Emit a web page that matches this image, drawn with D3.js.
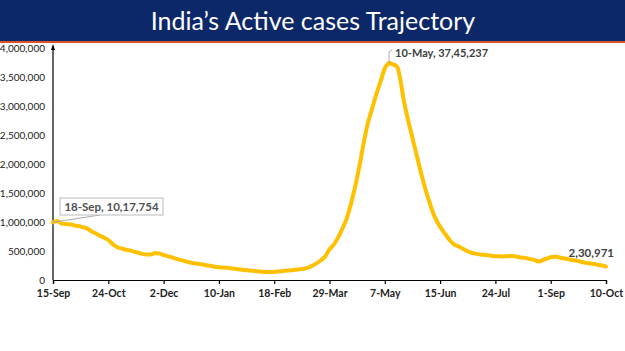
<!DOCTYPE html>
<html><head><meta charset="utf-8">
<script src="https://cdn.jsdelivr.net/npm/d3@7"></script>
<style>
html,body{margin:0;padding:0;background:#fff;}
svg{display:block;}
</style></head>
<body>
<script>
const titleText = "India\u2019s Active cases Trajectory";
const tickDates = ["2020-09-15","2020-10-24","2020-12-02","2021-01-10","2021-02-18","2021-03-29","2021-05-07","2021-06-15","2021-07-24","2021-09-01","2021-10-10"];
const yTicks = [0,500000,1000000,1500000,2000000,2500000,3000000,3500000,4000000];
const dates = ["2020-09-15","2020-09-18","2020-09-21","2020-09-24","2020-09-27","2020-09-30","2020-10-03","2020-10-06","2020-10-09","2020-10-12","2020-10-15","2020-10-18","2020-10-21","2020-10-24","2020-10-27","2020-10-30","2020-11-02","2020-11-05","2020-11-08","2020-11-11","2020-11-14","2020-11-17","2020-11-20","2020-11-23","2020-11-26","2020-11-29","2020-12-02","2020-12-05","2020-12-08","2020-12-11","2020-12-14","2020-12-17","2020-12-20","2020-12-23","2020-12-26","2020-12-29","2021-01-01","2021-01-04","2021-01-07","2021-01-10","2021-01-13","2021-01-16","2021-01-19","2021-01-22","2021-01-25","2021-01-28","2021-01-31","2021-02-03","2021-02-06","2021-02-09","2021-02-12","2021-02-15","2021-02-18","2021-02-21","2021-02-24","2021-02-27","2021-03-02","2021-03-05","2021-03-08","2021-03-11","2021-03-14","2021-03-17","2021-03-20","2021-03-23","2021-03-26","2021-03-29","2021-04-01","2021-04-04","2021-04-07","2021-04-10","2021-04-13","2021-04-16","2021-04-19","2021-04-22","2021-04-25","2021-04-28","2021-05-01","2021-05-04","2021-05-07","2021-05-09","2021-05-10","2021-05-12","2021-05-14","2021-05-16","2021-05-18","2021-05-20","2021-05-23","2021-05-26","2021-05-29","2021-06-01","2021-06-04","2021-06-07","2021-06-10","2021-06-13","2021-06-16","2021-06-19","2021-06-22","2021-06-25","2021-06-28","2021-07-01","2021-07-04","2021-07-07","2021-07-10","2021-07-13","2021-07-16","2021-07-19","2021-07-22","2021-07-25","2021-07-28","2021-07-31","2021-08-03","2021-08-06","2021-08-09","2021-08-12","2021-08-15","2021-08-18","2021-08-21","2021-08-24","2021-08-27","2021-08-30","2021-09-02","2021-09-05","2021-09-08","2021-09-11","2021-09-14","2021-09-17","2021-09-20","2021-09-23","2021-09-26","2021-09-29","2021-10-02","2021-10-05","2021-10-08","2021-10-10"];
const activeCases = [995000,1017754,975000,965000,960000,942000,930000,910000,890000,840000,805000,765000,730000,690000,620000,570000,545000,525000,510000,490000,470000,450000,440000,440000,465000,455000,430000,410000,390000,365000,345000,325000,305000,290000,280000,270000,255000,245000,230000,220000,215000,210000,200000,190000,182000,172000,165000,158000,150000,144000,137000,138000,140000,148000,155000,162000,168000,175000,185000,195000,215000,245000,290000,340000,410000,530000,610000,730000,880000,1050000,1300000,1600000,1950000,2350000,2700000,2950000,3200000,3420000,3650000,3720000,3745237,3720000,3710000,3660000,3450000,3150000,2800000,2500000,2200000,1900000,1620000,1380000,1160000,1000000,880000,780000,680000,610000,580000,540000,500000,470000,455000,440000,435000,425000,415000,410000,405000,408000,415000,412000,395000,385000,375000,360000,340000,320000,350000,375000,395000,400000,385000,370000,355000,340000,330000,310000,295000,285000,275000,260000,245000,230971];
const annotations = [
  {date:"2021-05-10", label:"10-May,  37,45,237"},
  {date:"2020-09-18", label:"18-Sep,  10,17,754"},
  {date:"2021-10-10", label:"2,30,971"}
];

const W=625,H=351;
const parse=d3.timeParse("%Y-%m-%d");
const fmtTick=d3.timeFormat("%-d-%b");
const data=dates.map((d,i)=>({date:parse(d),value:activeCases[i]}));

const svg=d3.select("body").append("svg").attr("width",W).attr("height",H);

// title bar
svg.append("rect").attr("x",0).attr("y",0).attr("width",W).attr("height",41).attr("fill","#0c2869");
svg.append("rect").attr("x",0).attr("y",41).attr("width",W).attr("height",2).attr("fill","#d9542b");
svg.append("text").attr("x",313).attr("y",30).attr("text-anchor","middle")
  .attr("fill","#fff").attr("font-family","Lato, sans-serif").attr("font-size",25)
  .text(titleText);

const x=d3.scaleTime().domain([parse(tickDates[0]),parse(tickDates[tickDates.length-1])]).range([53,606]);
const y=d3.scaleLinear().domain([0,4000000]).range([280,48]);

// x axis
const xAxis=d3.axisBottom(x).tickValues(tickDates.map(parse)).tickFormat(fmtTick).tickSizeOuter(0).tickSize(4).tickPadding(6);
const gx=svg.append("g").attr("transform","translate(0,280)").call(xAxis);
gx.select(".domain").attr("stroke","#000").attr("stroke-width",1.2);
gx.selectAll(".tick line").attr("stroke","#000").attr("stroke-width",1.2);
gx.selectAll(".tick text").attr("font-family","Lato, sans-serif").attr("font-size",10.5).attr("font-weight","bold").attr("fill","#222");

// y axis
const yAxis=d3.axisLeft(y).tickValues(yTicks).tickFormat(d3.format(",")).tickSize(0).tickPadding(8);
const gy=svg.append("g").attr("transform","translate(53,0)").call(yAxis);
gy.select(".domain").remove();
gy.selectAll(".tick text").attr("font-family","Lato, sans-serif").attr("font-size",10).attr("fill","#222");
svg.append("line").attr("x1",53).attr("x2",53).attr("y1",280).attr("y2",46).attr("stroke","#000").attr("stroke-width",1.2);
svg.append("path").attr("d","M53,44 L51,50 L55,50 Z").attr("fill","#000");

// line
const line=d3.line().x(d=>x(d.date)).y(d=>y(d.value)).curve(d3.curveMonotoneX);
svg.append("path").datum(data).attr("d",line).attr("fill","none").attr("stroke","#ffc000").attr("stroke-width",4).attr("stroke-linejoin","round").attr("stroke-linecap","round");

// annotations
const byDate=new Map(data.map(d=>[+d.date,d]));
const a0=byDate.get(+parse(annotations[0].date));
const px0=x(a0.date),py0=y(a0.value);
svg.append("path").attr("d",`M${px0},${py0} L${px0},${py0-11} L${px0+3},${py0-13}`).attr("fill","none").attr("stroke","#999").attr("stroke-width",0.8);
svg.append("text").attr("x",px0+6).attr("y",py0-6).attr("font-family","Lato, sans-serif").attr("font-size",11).attr("font-weight","bold").attr("fill","#404040").text(annotations[0].label);

const d0=data[0];
const sx=x(d0.date),sy=y(d0.value);
svg.append("line").attr("x1",sx).attr("y1",sy).attr("x2",100).attr("y2",215).attr("stroke","#aaa").attr("stroke-width",1);
svg.append("rect").attr("x",60).attr("y",198).attr("width",103).attr("height",17).attr("fill","#fff").attr("stroke","#bbb").attr("stroke-width",1);
svg.append("text").attr("x",111.5).attr("y",211).attr("text-anchor","middle").attr("font-family","Lato, sans-serif").attr("font-size",11.5).attr("font-weight","bold").attr("fill","#505050").text(annotations[1].label);

const a2=byDate.get(+parse(annotations[2].date));
svg.append("text").attr("x",x(a2.date)+8).attr("y",y(a2.value)-10).attr("text-anchor","end").attr("font-family","Lato, sans-serif").attr("font-size",11.5).attr("font-weight","bold").attr("fill","#404040").text(annotations[2].label);
</script>
</body></html>
